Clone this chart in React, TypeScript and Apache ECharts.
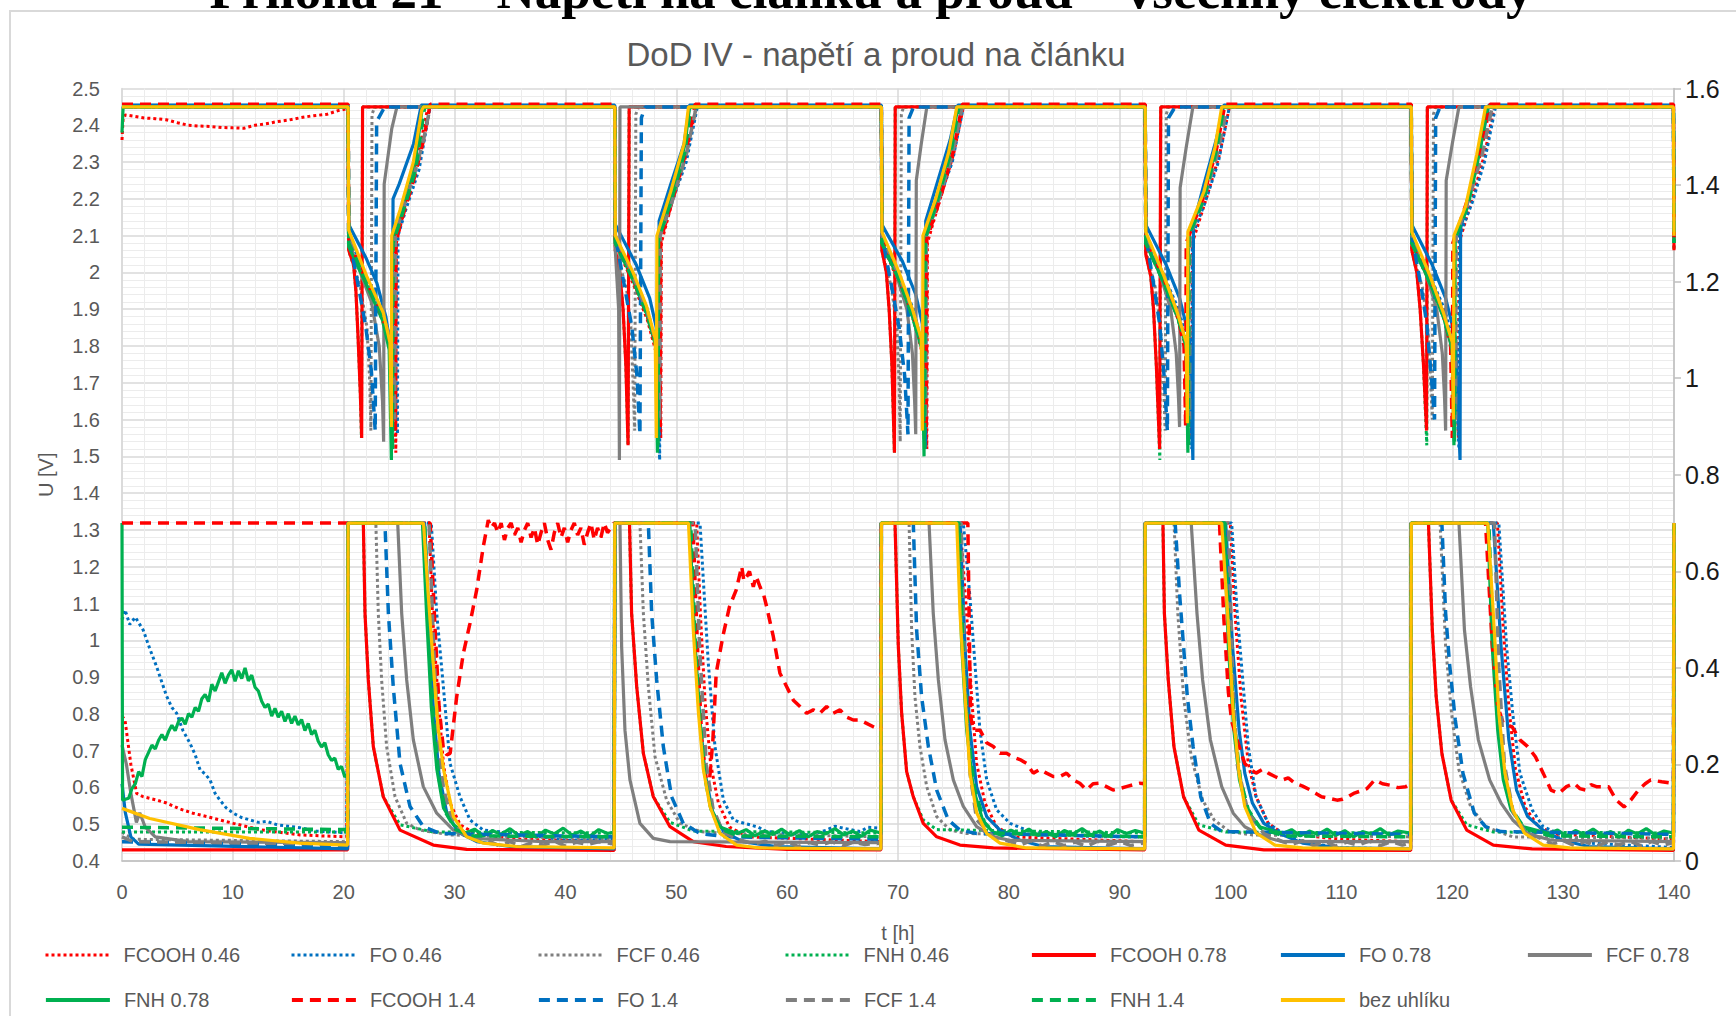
import React, { useEffect, useRef } from "react";
import * as echarts from "echarts";

// ---------- names / legend order ----------
const SERIES_NAMES = [
  "FCOOH 0.46", "FO 0.46", "FCF 0.46", "FNH 0.46",
  "FCOOH 0.78", "FO 0.78", "FCF 0.78", "FNH 0.78",
  "FCOOH 1.4", "FO 1.4", "FCF 1.4", "FNH 1.4", "bez uhlíku",
];
const X_TICKS = [0, 140, 10];
const U_TICKS = [0.4, 2.5, 0.1];
const I_TICKS = [0, 1.6, 0.2];

// ---------- data: flat [t, value, t, value, ...] ----------
// U = cell voltage [V] (left axis), I = current [A] (right axis)
const U_FCOOH_046 = [0,2.36, 0.1,2.42, 0.3,2.428, 1.2,2.424, 2,2.42, 3,2.418, 4,2.415, 5,2.407, 6,2.4, 7,2.398, 7.9,2.397, 9,2.394, 10,2.393, 11,2.392, 12,2.4, 13,2.404, 14,2.41, 15,2.414, 16,2.42, 17,2.425, 18.5,2.43, 19.5,2.44, 20.3,2.445,
  20.4,2.45, 20.45,2.08, 22.0,1.97, 23.5,1.87, 24.3,1.78, 24.6,1.65, 24.7,1.51, 24.75,2.08, 25.3,2.15, 26.0,2.25, 27.0,2.36, 27.6,2.45,
  44.45,2.45, 44.5,2.08, 46.1,1.97, 47.4,1.87, 48.2,1.78, 48.5,1.65, 48.6,1.55, 48.65,2.08, 49.7,2.2, 50.9,2.32, 51.8,2.45,
  68.5,2.45, 68.55,2.08, 70.1,1.97, 71.4,1.87, 72.2,1.78, 72.5,1.65, 72.6,1.52, 72.65,2.08, 73.8,2.2, 75.0,2.32, 75.9,2.45,
  92.3,2.45, 92.35,2.08, 94.0,1.97, 95.3,1.87, 96.1,1.78, 96.4,1.65, 96.5,1.55, 96.55,2.08, 97.8,2.2, 99.0,2.32, 99.9,2.45,
  116.3,2.45, 116.35,2.08, 118.0,1.97, 119.3,1.87, 120.1,1.78, 120.45,1.65, 120.55,1.55, 120.6,2.08, 121.8,2.2, 122.9,2.32, 123.8,2.45, 139.95,2.45, 140,2.08];
const I_FCOOH_046 = [0,0.3, 0.27,0.292, 0.8,0.2, 1.32,0.14, 1.92,0.133, 3,0.127, 4.03,0.12, 5.2,0.108, 6.4,0.099, 8,0.09, 10.04,0.078, 12.4,0.065, 14,0.06, 16.06,0.054, 18,0.052, 20.27,0.05, 20.4,0.7,
  27.7,0.7, 28.0,0.513, 28.5,0.34, 29.0,0.2, 29.6,0.12, 30.5,0.075, 32,0.055, 36,0.045, 44.4,0.04, 44.45,0.7,
  51.84,0.7, 52.2,0.5, 52.6,0.33, 53.1,0.2, 53.8,0.12, 54.8,0.07, 56.5,0.05, 68.45,0.04, 68.5,0.7,
  75.6,0.7, 76.19,0.513, 76.64,0.34, 77.09,0.202, 77.85,0.12, 78.9,0.071, 80.4,0.05, 92.25,0.04, 92.3,0.7,
  99.97,0.7, 100.4,0.513, 100.94,0.34, 101.6,0.202, 102.3,0.133, 103.4,0.078, 104.7,0.057, 110,0.045, 116.25,0.04, 116.3,0.7,
  124.07,0.7, 124.6,0.48, 125.1,0.32, 125.7,0.19, 126.6,0.11, 127.8,0.07, 129.5,0.055, 139.95,0.045, 140,0.7];

const U_FO_046 = [0,2.45, 20.4,2.45, 20.45,2.1, 22.0,1.99, 23.5,1.89, 24.3,1.81, 24.75,1.7, 24.85,1.56, 24.9,2.1, 25.6,2.17, 26.8,2.28, 27.8,2.45,
  44.45,2.45, 44.5,2.1, 46.1,1.99, 47.4,1.9, 48.2,1.8, 48.5,1.49, 48.55,2.1, 49.6,2.19, 50.9,2.3, 51.9,2.45,
  68.5,2.45, 68.55,2.1, 70.1,1.99, 71.4,1.9, 72.2,1.8, 72.5,1.53, 72.55,2.1, 73.6,2.19, 74.9,2.3, 75.9,2.45,
  92.3,2.45, 92.35,2.1, 94.0,1.99, 95.3,1.9, 96.2,1.8, 96.5,1.52, 96.55,2.1, 97.7,2.19, 98.9,2.3, 99.9,2.45,
  116.3,2.45, 116.35,2.1, 118.0,1.99, 119.3,1.9, 120.2,1.8, 120.6,1.52, 120.65,2.1, 121.8,2.19, 122.9,2.3, 123.9,2.45, 139.95,2.45, 140,2.1];
const I_FO_046 = [0,0.5, 0.27,0.52, 0.7,0.49, 1.2,0.505, 1.92,0.478, 2.5,0.44, 3.13,0.402, 3.6,0.37, 4.03,0.341, 4.5,0.318, 4.93,0.306, 5.5,0.27, 6.13,0.244, 6.6,0.22, 7.04,0.189, 7.5,0.18, 7.94,0.168, 8.4,0.14, 8.84,0.126, 9.4,0.11, 10.04,0.099, 10.8,0.09, 11.55,0.085, 12.3,0.08, 13.05,0.082, 14,0.075, 15,0.072, 16.06,0.069, 17.5,0.062, 19,0.06, 20.27,0.058, 20.4,0.7,
  27.9,0.7, 28.39,0.513, 28.99,0.361, 29.59,0.202, 30.49,0.133, 31.39,0.085, 32.59,0.064, 35.6,0.057, 40.1,0.043, 44.4,0.045, 44.45,0.7,
  52.14,0.7, 52.44,0.582, 52.89,0.409, 53.49,0.237, 54.25,0.126, 55.15,0.085, 55.8,0.08, 56.65,0.075, 57.4,0.07, 58.15,0.061, 59.96,0.057, 62.06,0.054, 63.56,0.064, 64.3,0.072, 65.07,0.068, 66.57,0.061, 67.3,0.07, 68.45,0.068, 68.5,0.7,
  75.89,0.7, 76.49,0.547, 76.94,0.409, 77.39,0.271, 78.0,0.168, 78.9,0.106, 80.1,0.078, 81.6,0.064, 83.1,0.057, 88,0.05, 92.25,0.05, 92.3,0.7,
  100.1,0.7, 100.6,0.513, 101.1,0.375, 101.6,0.237, 102.3,0.133, 103.4,0.078, 104.7,0.057, 106.5,0.04, 109.9,0.027, 116.25,0.025, 116.3,0.7,
  124.2,0.7, 124.9,0.444, 125.45,0.306, 126.1,0.182, 127.2,0.106, 128.2,0.071, 129.6,0.057, 132.3,0.037, 139.95,0.028, 140,0.7];

const U_FCF_046 = [0,2.45, 20.4,2.45, 20.45,2.06, 21.5,1.96, 22.1,1.85, 22.35,1.7, 22.45,1.57, 22.55,2.43, 22.8,2.45,
  44.45,2.45, 44.5,2.06, 45.5,1.96, 45.9,1.85, 46.1,1.7, 46.25,1.57, 46.35,2.43, 46.6,2.45,
  68.5,2.45, 68.55,2.06, 69.4,1.96, 69.9,1.85, 70.1,1.7, 70.2,1.54, 70.3,2.43, 70.5,2.45,
  92.3,2.45, 92.35,2.06, 93.2,1.96, 93.7,1.85, 93.95,1.7, 94.1,1.57, 94.2,2.43, 94.4,2.45,
  116.3,2.45, 116.35,2.06, 117.3,1.96, 117.8,1.85, 118.05,1.7, 118.2,1.6, 118.3,2.43, 118.5,2.45, 139.95,2.45, 140,2.06];
const I_FCF_046 = [0,0.06, 1,0.045, 20.35,0.04, 20.4,0.7,
  22.9,0.7, 23.12,0.513, 23.42,0.375, 23.87,0.237, 24.63,0.133, 25.68,0.078, 26.88,0.064, 29.6,0.054, 44.4,0.045, 44.45,0.7,
  46.72,0.7, 47.03,0.513, 47.48,0.361, 48.08,0.216, 49.13,0.126, 50.33,0.078, 52.14,0.061, 54.5,0.057, 68.45,0.05, 68.5,0.7,
  71.0,0.7, 71.23,0.478, 71.53,0.34, 71.98,0.237, 72.59,0.154, 73.49,0.092, 74.69,0.064, 76.19,0.057, 92.25,0.05, 92.3,0.7,
  94.9,0.7, 95.24,0.513, 95.76,0.34, 96.45,0.216, 97.48,0.126, 98.52,0.085, 99.9,0.061, 101.97,0.054, 116.25,0.05, 116.3,0.7,
  118.9,0.7, 119.4,0.444, 119.93,0.306, 120.6,0.189, 121.65,0.113, 123.0,0.071, 125.45,0.05, 139.95,0.047, 140,0.7];

const U_FNH_046 = [0,2.45, 20.4,2.45, 20.45,2.06, 20.9,2.02, 21.1,1.95, 21.3,1.82, 21.5,1.67, 21.6,1.55, 21.7,2.45,
  44.45,2.45, 44.5,2.06, 44.9,2.0, 45.2,1.9, 45.45,1.75, 45.65,1.53, 45.75,2.45,
  68.5,2.45, 68.55,2.06, 68.95,2.0, 69.2,1.9, 69.45,1.75, 69.68,1.51, 69.75,2.45,
  92.3,2.45, 92.35,2.05, 92.8,1.99, 93.05,1.9, 93.3,1.75, 93.62,1.49, 93.7,2.45,
  116.3,2.45, 116.35,2.06, 116.8,2.0, 117.1,1.9, 117.4,1.75, 117.7,1.53, 117.75,2.45, 139.95,2.45, 140,2.06];
const I_FNH_046 = [0,0.06, 20.35,0.06, 20.4,0.7,
  21.77,0.7, 21.92,0.513, 22.22,0.375, 22.67,0.237, 23.57,0.133, 25.08,0.075, 28.08,0.06, 44.4,0.058, 44.45,0.7,
  45.78,0.7, 45.97,0.513, 46.43,0.361, 47.03,0.223, 47.93,0.133, 49.43,0.08, 51.53,0.062, 68.45,0.058, 68.5,0.7,
  69.73,0.7, 70.03,0.444, 70.33,0.306, 70.78,0.185, 71.38,0.133, 72.28,0.085, 73.49,0.065, 92.25,0.058, 92.3,0.7,
  93.9,0.7, 94.03,0.513, 94.38,0.375, 94.89,0.237, 95.76,0.133, 97.14,0.075, 99.56,0.06, 116.25,0.058, 116.3,0.7,
  117.85,0.7, 118.2,0.478, 118.55,0.34, 119.06,0.223, 119.9,0.126, 121.3,0.075, 123.7,0.06, 139.95,0.058, 140,0.7];

const U_FCOOH_078 = [0,2.45, 20.4,2.45, 20.45,2.06, 20.9,2.02, 21.1,1.95, 21.3,1.82, 21.5,1.67, 21.62,1.55, 21.7,2.45,
  44.45,2.45, 44.5,2.06, 44.9,2.0, 45.2,1.9, 45.45,1.75, 45.65,1.53, 45.75,2.45,
  68.5,2.45, 68.55,2.06, 68.95,2.0, 69.2,1.9, 69.45,1.75, 69.68,1.51, 69.75,2.45,
  92.3,2.45, 92.35,2.05, 92.8,1.99, 93.05,1.9, 93.3,1.75, 93.6,1.52, 93.7,2.45,
  116.3,2.45, 116.35,2.06, 116.8,2.0, 117.1,1.9, 117.4,1.75, 117.68,1.57, 117.75,2.45, 139.95,2.45, 140,2.06];
const I_FCOOH_078 = [0,0.023, 20.35,0.023, 20.4,0.7,
  21.77,0.7, 21.92,0.513, 22.22,0.375, 22.67,0.237, 23.57,0.133, 25.08,0.064, 28.08,0.033, 31.09,0.024, 44.4,0.022, 44.45,0.7,
  45.78,0.7, 45.97,0.513, 46.43,0.361, 47.03,0.223, 47.93,0.133, 49.43,0.071, 51.53,0.04, 54.5,0.03, 60,0.024, 68.45,0.023, 68.5,0.7,
  69.73,0.7, 70.03,0.444, 70.33,0.306, 70.78,0.185, 71.38,0.133, 72.28,0.078, 73.49,0.05, 75.59,0.033, 78.6,0.027, 92.25,0.023, 92.3,0.7,
  93.9,0.7, 94.03,0.513, 94.38,0.375, 94.89,0.237, 95.76,0.133, 97.14,0.064, 99.56,0.033, 103.0,0.023, 116.25,0.022, 116.3,0.7,
  117.85,0.7, 118.2,0.478, 118.55,0.34, 119.06,0.223, 119.9,0.126, 121.3,0.064, 123.7,0.033, 127.2,0.025, 139.95,0.022, 140,0.7];

const U_FO_078 = [0,2.455, 20.4,2.455, 20.45,2.13, 22.0,2.04, 23.0,1.97, 23.8,1.88, 24.2,1.8, 24.35,1.6, 24.45,2.2, 25.0,2.24, 26.3,2.35, 27.0,2.455,
  44.45,2.455, 44.5,2.13, 46.4,2.02, 47.6,1.93, 48.2,1.85, 48.4,1.55, 48.45,2.14, 49.5,2.24, 50.7,2.35, 51.2,2.455,
  68.5,2.455, 68.55,2.13, 70.4,2.03, 71.6,1.94, 72.2,1.86, 72.45,1.52, 72.5,2.14, 73.5,2.24, 74.7,2.36, 75.4,2.455,
  92.3,2.455, 92.35,2.13, 94.2,2.02, 95.4,1.93, 96.3,1.82, 96.6,1.49, 96.65,2.13, 97.6,2.24, 98.7,2.36, 99.4,2.455,
  116.3,2.455, 116.35,2.13, 118.2,2.02, 119.4,1.93, 120.3,1.82, 120.7,1.49, 120.75,2.12, 121.6,2.22, 122.6,2.35, 123.3,2.455, 139.95,2.455, 140,2.12];
const I_FO_078 = [0,0.16, 0.3,0.1, 0.8,0.05, 1.5,0.035, 20.35,0.025, 20.4,0.7,
  27.3,0.7, 27.7,0.5, 28.1,0.31, 28.6,0.18, 29.3,0.1, 30.3,0.06, 32,0.04, 35,0.03, 44.4,0.025, 44.45,0.7,
  51.2,0.7, 51.6,0.48, 52.1,0.3, 52.6,0.18, 53.3,0.1, 54.3,0.06, 56,0.04, 59,0.03, 68.45,0.025, 68.5,0.7,
  75.6,0.7, 76.04,0.444, 76.49,0.271, 77.09,0.154, 78.0,0.092, 79.2,0.064, 81.0,0.043, 83.1,0.03, 92.25,0.025, 92.3,0.7,
  99.56,0.7, 100.18,0.444, 100.77,0.271, 101.28,0.182, 101.97,0.12, 103.0,0.078, 104.4,0.057, 106.5,0.037, 109.9,0.027, 116.25,0.025, 116.3,0.7,
  123.7,0.7, 124.4,0.444, 125.1,0.251, 125.8,0.147, 126.8,0.092, 128.2,0.064, 129.9,0.043, 132.3,0.03, 139.95,0.025, 140,0.7];

const U_FCF_078 = [0,2.45, 20.4,2.45, 20.45,2.08, 21.5,2.0, 22.5,1.92, 23.2,1.8, 23.5,1.65, 23.6,1.54, 23.65,2.24, 24.33,2.39, 24.8,2.45,
  44.45,2.45, 44.5,2.06, 44.8,1.9, 44.87,1.49, 44.92,2.45,
  68.5,2.45, 68.55,2.08, 69.8,2.0, 70.8,1.9, 71.3,1.78, 71.5,1.65, 71.6,1.56, 71.65,2.25, 72.1,2.35, 72.6,2.45,
  92.3,2.45, 92.35,2.08, 93.6,2.0, 94.6,1.9, 95.1,1.78, 95.3,1.66, 95.4,1.58, 95.45,2.23, 96.0,2.34, 96.6,2.45,
  116.3,2.45, 116.35,2.08, 117.6,2.0, 118.6,1.9, 119.1,1.78, 119.3,1.66, 119.4,1.57, 119.45,2.25, 120.0,2.35, 120.6,2.45, 139.95,2.45, 140,2.08];
const I_FCF_078 = [0,0.24, 0.4,0.2, 0.8,0.14, 1.3,0.08, 1.6,0.1, 2.1,0.07, 3,0.05, 6,0.04, 20.35,0.038, 20.4,0.7,
  24.87,0.7, 25.23,0.513, 25.68,0.375, 26.28,0.251, 27.18,0.154, 28.39,0.099, 29.89,0.064, 31.69,0.047, 38,0.04, 44.4,0.04, 44.45,0.7,
  44.92,0.7, 45.07,0.444, 45.37,0.271, 45.82,0.168, 46.72,0.078, 47.93,0.047, 49.43,0.04, 68.45,0.038, 68.5,0.7,
  72.8,0.7, 73.18,0.513, 73.64,0.375, 74.24,0.251, 74.99,0.168, 75.89,0.113, 77.09,0.071, 78.6,0.05, 80.1,0.043, 92.25,0.04, 92.3,0.7,
  96.45,0.7, 96.97,0.513, 97.48,0.375, 98.18,0.251, 99.2,0.154, 100.24,0.099, 101.28,0.071, 103.0,0.05, 104.7,0.04, 116.25,0.04, 116.3,0.7,
  120.6,0.7, 121.1,0.478, 121.65,0.361, 122.35,0.251, 123.37,0.168, 124.4,0.12, 125.45,0.085, 126.8,0.057, 128.9,0.043, 139.95,0.04, 140,0.7];

const U_FNH_078 = [0,2.38, 0.1,2.45, 20.4,2.45, 20.45,2.07, 22.0,1.97, 23.5,1.87, 24.1,1.79, 24.3,1.49, 24.35,2.08, 25.2,2.16, 26.4,2.29, 27.1,2.45,
  44.45,2.45, 44.5,2.08, 46.1,1.98, 47.3,1.89, 48.15,1.8, 48.3,1.51, 48.35,2.09, 49.6,2.21, 50.8,2.35, 51.2,2.45,
  68.5,2.45, 68.55,2.08, 70.1,1.98, 71.3,1.88, 72.2,1.79, 72.35,1.5, 72.4,2.09, 73.5,2.2, 74.7,2.33, 75.4,2.45,
  92.3,2.45, 92.35,2.08, 94.0,1.97, 95.2,1.88, 96.0,1.8, 96.15,1.51, 96.2,2.1, 97.6,2.21, 98.6,2.33, 99.3,2.45,
  116.3,2.45, 116.35,2.08, 118.0,1.97, 119.2,1.88, 120.0,1.79, 120.15,1.53, 120.2,2.09, 121.3,2.18, 122.3,2.32, 123.1,2.45, 139.95,2.45, 140,2.08];
const I_FNH_078 = [0,0.7, 0.05,0.126, 0.3,0.128, 0.6,0.13, 0.9,0.15, 1.2,0.16, 1.5,0.185, 1.8,0.175, 2.1,0.21, 2.4,0.225, 2.7,0.24, 3.0,0.232, 3.3,0.25, 3.6,0.262, 3.9,0.25, 4.2,0.268, 4.5,0.281, 4.8,0.27, 5.1,0.289, 5.4,0.296, 5.7,0.283, 6.0,0.305, 6.3,0.298, 6.6,0.318, 6.9,0.31, 7.2,0.336, 7.5,0.345, 7.8,0.33, 8.1,0.366, 8.4,0.352, 8.7,0.371, 9.0,0.39, 9.3,0.368, 9.6,0.385, 9.9,0.396, 10.2,0.372, 10.5,0.394, 10.8,0.378, 11.1,0.4, 11.4,0.373, 11.7,0.385, 12.0,0.36, 12.3,0.352, 12.6,0.331, 12.9,0.318, 13.2,0.325, 13.5,0.3, 13.8,0.316, 14.1,0.298, 14.4,0.31, 14.7,0.289, 15.0,0.305, 15.3,0.285, 15.6,0.3, 15.9,0.282, 16.2,0.293, 16.5,0.27, 16.8,0.285, 17.1,0.262, 17.4,0.271, 17.7,0.248, 18.0,0.236, 18.3,0.245, 18.6,0.22, 18.9,0.208, 19.2,0.213, 19.5,0.19, 19.8,0.196, 20.1,0.174, 20.35,0.18, 20.4,0.7,
  27.1,0.7, 27.5,0.5, 27.9,0.32, 28.4,0.19, 29.0,0.11, 29.9,0.075, 31,0.058, 31.8,0.066, 32.6,0.052, 33.4,0.063, 34.2,0.055, 35,0.067, 35.8,0.053, 36.6,0.061, 37.4,0.05, 38.2,0.064, 39,0.056, 39.8,0.068, 40.6,0.054, 41.4,0.062, 42.2,0.051, 43,0.065, 43.8,0.057, 44.4,0.06, 44.45,0.7,
  51.2,0.7, 51.6,0.48, 52.05,0.31, 52.5,0.19, 53.1,0.11, 54.0,0.07, 55.5,0.057, 56.3,0.065, 57.1,0.052, 57.9,0.062, 58.7,0.055, 59.5,0.066, 60.3,0.053, 61.1,0.063, 61.9,0.05, 62.7,0.061, 63.5,0.056, 64.3,0.067, 65.1,0.054, 65.9,0.062, 66.7,0.051, 67.5,0.064, 68.45,0.058, 68.5,0.7,
  75.4,0.7, 75.75,0.444, 76.2,0.27, 76.8,0.15, 77.7,0.08, 78.6,0.06, 79.4,0.052, 80.2,0.064, 81,0.055, 81.8,0.066, 82.6,0.053, 83.4,0.061, 84.2,0.05, 85,0.063, 85.8,0.056, 86.6,0.067, 87.4,0.054, 88.2,0.062, 89,0.051, 89.8,0.065, 90.6,0.057, 91.4,0.063, 92.25,0.058, 92.3,0.7,
  99.4,0.7, 99.8,0.444, 100.3,0.27, 100.8,0.168, 101.5,0.106, 102.6,0.071, 104.7,0.057, 105.5,0.065, 106.3,0.052, 107.1,0.062, 107.9,0.055, 108.7,0.066, 109.5,0.053, 110.3,0.063, 111.1,0.05, 111.9,0.061, 112.7,0.056, 113.5,0.067, 114.3,0.054, 115.1,0.062, 116.25,0.058, 116.3,0.7,
  123.2,0.7, 123.6,0.444, 124.1,0.27, 124.6,0.168, 125.3,0.106, 126.4,0.071, 128.7,0.057, 129.5,0.064, 130.3,0.052, 131.1,0.063, 131.9,0.055, 132.7,0.066, 133.5,0.053, 134.3,0.061, 135.1,0.05, 135.9,0.064, 136.7,0.056, 137.5,0.067, 138.3,0.054, 139.1,0.062, 139.95,0.058, 140,0.7];

const U_FCOOH_14 = [0,2.457, 20.4,2.457, 20.45,2.09, 22.0,1.98, 23.5,1.88, 24.3,1.8, 24.55,1.68, 24.65,1.57, 24.7,2.09, 25.4,2.16, 26.4,2.26, 27.2,2.36, 27.8,2.457,
  44.45,2.457, 44.5,2.09, 46.1,1.98, 47.4,1.88, 48.2,1.8, 48.45,1.68, 48.55,1.58, 48.6,2.09, 49.7,2.2, 50.9,2.33, 51.7,2.457,
  68.5,2.457, 68.55,2.09, 70.1,1.98, 71.4,1.88, 72.2,1.8, 72.45,1.68, 72.55,1.58, 72.6,2.09, 73.8,2.2, 75.0,2.33, 75.8,2.457,
  92.3,2.457, 92.35,2.09, 93.9,1.99, 95.1,1.9, 95.8,1.8, 95.95,1.58, 96.0,2.08, 97.5,2.2, 98.7,2.33, 99.5,2.457,
  116.3,2.457, 116.35,2.09, 117.9,1.99, 119.1,1.9, 119.85,1.8, 120.0,1.55, 120.05,2.08, 121.4,2.2, 122.6,2.33, 123.4,2.457, 139.95,2.457, 140,2.09];
const I_FCOOH_14 = [0,0.7, 20.4,0.7,
  27.8,0.7, 28.2,0.5, 28.6,0.32, 29.0,0.23, 29.3,0.22, 29.6,0.223, 30.19,0.34, 30.79,0.43, 31.39,0.492, 31.99,0.561, 32.59,0.651, 33.04,0.706,
  33.3,0.69, 33.6,0.7, 33.9,0.68, 34.2,0.7, 34.5,0.665, 34.8,0.69, 35.1,0.7, 35.4,0.675, 35.7,0.69, 36.0,0.66, 36.3,0.685, 36.6,0.7, 36.9,0.67, 37.2,0.69, 37.5,0.655, 37.8,0.68, 38.1,0.7, 38.4,0.665, 38.7,0.645, 39.0,0.68, 39.3,0.7, 39.6,0.67, 39.9,0.69, 40.2,0.66, 40.5,0.685, 40.8,0.7, 41.1,0.675, 41.4,0.69, 41.7,0.655, 42.0,0.68, 42.3,0.7, 42.6,0.665, 42.9,0.69, 43.2,0.67, 43.5,0.7, 43.8,0.68, 44.1,0.69, 44.4,0.7,
  51.5,0.7, 51.9,0.45, 52.3,0.25, 52.7,0.17, 53.0,0.168, 53.3,0.25, 53.6,0.389, 54.2,0.465, 54.8,0.527, 55.4,0.561, 55.9,0.61, 56.1,0.58, 56.35,0.589, 56.6,0.6, 56.95,0.568, 57.2,0.59, 57.55,0.568, 57.9,0.55, 58.15,0.527, 58.75,0.465, 59.35,0.389, 59.96,0.361, 60.56,0.333, 61.16,0.32, 61.76,0.306, 62.36,0.313, 62.96,0.306, 63.56,0.32, 64.16,0.306, 64.77,0.313, 65.37,0.298, 65.97,0.292, 66.57,0.292, 67.17,0.285, 67.77,0.278, 68.45,0.27, 68.5,0.7,
  76.3,0.7, 76.45,0.45, 76.55,0.3, 76.8,0.271, 77.4,0.271, 78.0,0.245, 78.6,0.237, 79.2,0.223, 79.8,0.223, 80.4,0.215, 81.0,0.21, 81.6,0.202, 82.2,0.182, 82.8,0.19, 83.4,0.182, 84.0,0.175, 84.6,0.175, 85.2,0.182, 85.8,0.168, 86.4,0.161, 87.0,0.147, 87.6,0.16, 88.2,0.161, 88.8,0.154, 89.4,0.147, 90.0,0.15, 90.6,0.154, 91.2,0.158, 91.8,0.161, 92.25,0.16, 92.3,0.7,
  99.0,0.7, 99.4,0.5, 99.8,0.35, 100.1,0.29, 100.6,0.25, 101.28,0.202, 101.8,0.19, 102.3,0.182, 102.9,0.19, 103.4,0.182, 104.0,0.175, 104.7,0.168, 105.2,0.172, 105.8,0.161, 106.5,0.155, 107.2,0.147, 107.7,0.14, 108.2,0.133, 108.9,0.13, 109.6,0.126, 110.1,0.128, 110.6,0.133, 111.1,0.14, 111.6,0.144, 112.3,0.15, 113.0,0.168, 113.7,0.16, 114.4,0.157, 115.1,0.152, 115.8,0.154, 116.25,0.16, 116.3,0.7,
  123.0,0.7, 123.6,0.45, 124.1,0.32, 124.6,0.285, 125.4,0.278, 126.1,0.251, 126.8,0.237, 127.5,0.216, 128.2,0.182, 128.9,0.147, 129.6,0.14, 130.3,0.154, 131.0,0.161, 131.5,0.15, 132.0,0.147, 132.5,0.158, 133.0,0.154, 134.1,0.154, 134.8,0.126, 135.5,0.112, 136.1,0.126, 136.8,0.147, 137.4,0.16, 137.9,0.168, 138.9,0.164, 139.8,0.161, 139.95,0.16, 140,0.7];

const U_FO_14 = [0,2.45, 20.4,2.45, 20.45,2.1, 21.4,1.95, 22.0,1.85, 22.5,1.73, 22.84,1.57, 22.97,2.41, 23.7,2.45,
  44.45,2.45, 44.5,2.1, 45.4,1.95, 46.0,1.85, 46.45,1.72, 46.72,1.56, 46.85,2.42, 47.2,2.45,
  68.5,2.45, 68.55,2.1, 69.5,1.95, 70.1,1.85, 70.6,1.72, 70.9,1.56, 71.0,2.42, 71.4,2.45,
  92.3,2.45, 92.35,2.1, 93.1,1.96, 93.6,1.86, 94.0,1.72, 94.3,1.57, 94.4,2.42, 95.0,2.45,
  116.3,2.45, 116.35,2.1, 117.2,1.96, 117.7,1.86, 118.1,1.72, 118.4,1.6, 118.5,2.42, 118.9,2.45, 139.95,2.45, 140,2.1];
const I_FO_14 = [0,0.04, 20.35,0.03, 20.4,0.7,
  23.72,0.7, 24.03,0.513, 24.47,0.361, 25.08,0.202, 25.98,0.113, 27.18,0.071, 28.69,0.057, 44.4,0.05, 44.45,0.7,
  47.48,0.7, 47.78,0.513, 48.23,0.375, 48.83,0.237, 49.58,0.133, 50.63,0.078, 52.14,0.057, 54.5,0.05, 68.45,0.045, 68.5,0.7,
  71.38,0.7, 71.68,0.478, 72.13,0.34, 72.74,0.237, 73.49,0.147, 74.54,0.085, 75.59,0.064, 77.09,0.057, 92.25,0.05, 92.3,0.7,
  95.0,0.7, 95.42,0.547, 95.76,0.444, 96.1,0.34, 96.62,0.237, 97.31,0.133, 98.18,0.078, 99.2,0.061, 116.25,0.055, 116.3,0.7,
  119.06,0.7, 119.4,0.513, 119.75,0.409, 120.27,0.292, 120.96,0.182, 121.99,0.099, 123.0,0.071, 124.4,0.061, 139.95,0.055, 140,0.7];

const U_FCF_14 = [0,2.45, 20.4,2.45, 20.45,2.1, 22.0,1.99, 23.5,1.89, 24.3,1.81, 24.55,1.7, 24.6,1.6, 24.65,2.1, 25.3,2.17, 26.4,2.27, 27.2,2.36, 27.8,2.45,
  44.45,2.45, 44.5,2.1, 46.1,1.99, 47.4,1.89, 48.2,1.81, 48.45,1.7, 48.5,1.6, 48.55,2.1, 49.7,2.2, 50.9,2.32, 51.8,2.45,
  68.5,2.45, 68.55,2.1, 70.1,1.99, 71.4,1.89, 72.2,1.81, 72.45,1.7, 72.5,1.6, 72.55,2.1, 73.7,2.2, 74.9,2.32, 75.8,2.45,
  92.3,2.45, 92.35,2.1, 94.0,1.99, 95.2,1.89, 96.0,1.81, 96.25,1.7, 96.3,1.6, 96.35,2.1, 97.6,2.2, 98.8,2.32, 99.7,2.45,
  116.3,2.45, 116.35,2.1, 118.0,1.99, 119.2,1.89, 120.0,1.81, 120.25,1.7, 120.3,1.6, 120.35,2.1, 121.5,2.2, 122.7,2.32, 123.6,2.45, 139.95,2.45, 140,2.1];
const I_FCF_14 = [0,0.05, 1,0.04, 20.35,0.035, 20.4,0.7,
  27.7,0.7, 28.1,0.45, 28.5,0.26, 29.0,0.15, 29.7,0.09, 30.8,0.055, 32.3,0.04, 33,0.042, 34,0.032, 35,0.04, 36,0.03, 37,0.038, 38,0.033, 39,0.041, 40,0.031, 41,0.039, 42,0.034, 43,0.04, 44.4,0.035, 44.45,0.7,
  51.7,0.7, 52.1,0.444, 52.7,0.2, 53.3,0.11, 54.2,0.06, 55.6,0.045, 57,0.035, 58,0.041, 59,0.032, 60,0.04, 61,0.03, 62,0.038, 63,0.033, 64,0.04, 65,0.031, 66,0.039, 67,0.034, 68.45,0.037, 68.5,0.7,
  75.7,0.7, 76.0,0.4, 76.5,0.18, 77.1,0.085, 78.6,0.05, 80.1,0.04, 81,0.033, 82,0.042, 83,0.031, 84,0.04, 85,0.032, 86,0.039, 87,0.03, 88,0.041, 89,0.033, 90,0.04, 91,0.032, 92.25,0.038, 92.3,0.7,
  99.8,0.7, 100.2,0.375, 100.6,0.2, 101.6,0.099, 103.0,0.057, 104.7,0.04, 105.5,0.034, 106.5,0.042, 107.5,0.032, 108.5,0.04, 109.5,0.031, 110.5,0.039, 111.5,0.033, 112.5,0.041, 113.5,0.032, 114.5,0.04, 115.5,0.033, 116.25,0.038, 116.3,0.7,
  123.8,0.7, 124.2,0.4, 124.7,0.2, 125.5,0.1, 126.6,0.06, 128.2,0.045, 129,0.035, 130,0.042, 131,0.032, 132,0.04, 133,0.031, 134,0.039, 135,0.033, 136,0.041, 137,0.032, 138,0.04, 139,0.033, 139.95,0.038, 140,0.7];

const U_FNH_14 = [0,2.45, 20.4,2.45, 20.45,2.08, 22.0,1.98, 23.5,1.88, 24.2,1.8, 24.4,1.52, 24.45,2.08, 25.3,2.16, 26.5,2.28, 27.3,2.45,
  44.45,2.45, 44.5,2.08, 46.1,1.98, 47.3,1.89, 48.2,1.8, 48.35,1.53, 48.4,2.09, 49.6,2.2, 50.8,2.33, 51.3,2.45,
  68.5,2.45, 68.55,2.08, 70.1,1.98, 71.3,1.88, 72.2,1.79, 72.4,1.52, 72.45,2.09, 73.6,2.2, 74.8,2.33, 75.5,2.45,
  92.3,2.45, 92.35,2.08, 94.0,1.97, 95.2,1.88, 96.0,1.8, 96.2,1.53, 96.25,2.1, 97.6,2.2, 98.7,2.33, 99.4,2.45,
  116.3,2.45, 116.35,2.08, 118.0,1.97, 119.2,1.88, 120.0,1.79, 120.2,1.54, 120.25,2.09, 121.4,2.18, 122.4,2.32, 123.2,2.45, 139.95,2.45, 140,2.08];
const I_FNH_14 = [0,0.07, 20.35,0.065, 20.4,0.7,
  27.3,0.7, 27.7,0.46, 28.1,0.29, 28.6,0.17, 29.2,0.1, 30.1,0.065, 31.5,0.052, 44.4,0.05, 44.45,0.7,
  51.3,0.7, 51.7,0.46, 52.15,0.29, 52.6,0.17, 53.2,0.1, 54.1,0.065, 55.6,0.052, 68.45,0.05, 68.5,0.7,
  75.5,0.7, 75.85,0.444, 76.3,0.27, 76.9,0.15, 77.8,0.08, 78.7,0.058, 92.25,0.05, 92.3,0.7,
  99.5,0.7, 99.9,0.444, 100.4,0.27, 100.9,0.168, 101.6,0.106, 102.7,0.068, 104.8,0.052, 116.25,0.05, 116.3,0.7,
  123.3,0.7, 123.7,0.444, 124.2,0.27, 124.7,0.168, 125.4,0.106, 126.5,0.068, 128.8,0.052, 139.95,0.05, 140,0.7];

const U_BEZ = [0,2.45, 20.4,2.45, 20.45,2.115, 22.07,1.99, 23.57,1.89, 24.17,1.81, 24.3,1.58, 24.33,2.1, 25.08,2.17, 26.28,2.3, 27.03,2.44, 27.2,2.45,
  44.45,2.45, 44.5,2.1, 46.1,2.0, 47.3,1.91, 48.1,1.82, 48.2,1.55, 48.25,2.1, 49.5,2.22, 50.7,2.35, 51.1,2.45,
  68.5,2.45, 68.55,2.11, 70.1,2.0, 71.3,1.9, 72.1,1.82, 72.2,1.57, 72.25,2.1, 73.4,2.2, 74.6,2.33, 75.3,2.45,
  92.3,2.45, 92.35,2.11, 94.0,1.99, 95.2,1.89, 96.0,1.81, 96.1,1.59, 96.15,2.11, 97.6,2.22, 98.6,2.34, 99.2,2.45,
  116.3,2.45, 116.35,2.11, 118.0,1.99, 119.2,1.89, 120.0,1.81, 120.1,1.6, 120.15,2.1, 121.2,2.18, 122.2,2.32, 123.0,2.45, 139.95,2.45, 140,2.1];
const I_BEZ = [0,0.109, 2.5,0.088, 7,0.065, 11.5,0.047, 16,0.037, 20.35,0.033, 20.4,0.7,
  27.2,0.7, 27.6,0.56, 28.1,0.4, 28.5,0.28, 29.0,0.19, 29.9,0.092, 31.1,0.05, 32.6,0.037, 35.6,0.03, 44.4,0.027, 44.45,0.7,
  51.1,0.7, 51.53,0.48, 51.99,0.31, 52.44,0.19, 53.04,0.113, 53.94,0.057, 55.45,0.033, 57.55,0.027, 68.45,0.025, 68.5,0.7,
  75.3,0.7, 75.6,0.51, 76.05,0.34, 76.5,0.18, 77.1,0.1, 78.0,0.057, 79.2,0.037, 81.6,0.027, 92.25,0.025, 92.3,0.7,
  99.2,0.7, 99.73,0.513, 100.24,0.306, 100.77,0.182, 101.28,0.113, 102.3,0.058, 104.0,0.033, 106.5,0.027, 116.25,0.025, 116.3,0.7,
  123.2,0.7, 123.7,0.513, 124.2,0.306, 124.75,0.182, 125.45,0.106, 126.5,0.058, 128.2,0.033, 130.6,0.027, 139.95,0.025, 140,0.7];

// ---------- styles ----------
const RED = "#FF0000";
const BLUE = "#0070C0";
const GRAY = "#7F7F7F";
const GREEN = "#00B050";
const YELLOW = "#FFC000";
const FONT = "'Liberation Sans', Arial, sans-serif";

const SPECS = [
  { color: RED, kind: "dot", u: U_FCOOH_046, i: I_FCOOH_046 },
  { color: BLUE, kind: "dot", u: U_FO_046, i: I_FO_046 },
  { color: GRAY, kind: "dot", u: U_FCF_046, i: I_FCF_046 },
  { color: GREEN, kind: "dot", u: U_FNH_046, i: I_FNH_046 },
  { color: RED, kind: "solid", u: U_FCOOH_078, i: I_FCOOH_078 },
  { color: BLUE, kind: "solid", u: U_FO_078, i: I_FO_078 },
  { color: GRAY, kind: "solid", u: U_FCF_078, i: I_FCF_078 },
  { color: GREEN, kind: "solid", u: U_FNH_078, i: I_FNH_078 },
  { color: RED, kind: "dash", u: U_FCOOH_14, i: I_FCOOH_14 },
  { color: BLUE, kind: "dash", u: U_FO_14, i: I_FO_14 },
  { color: GRAY, kind: "dash", u: U_FCF_14, i: I_FCF_14 },
  { color: GREEN, kind: "dash", u: U_FNH_14, i: I_FNH_14 },
  { color: YELLOW, kind: "solid", u: U_BEZ, i: I_BEZ },
];

const LEGEND_COLS = [44, 290, 537, 784, 1030, 1279, 1526];
const LEGEND_ROWS = [945, 990];

function pairs(a: number[]): number[][] {
  const out: number[][] = [];
  for (let k = 0; k + 1 < a.length; k += 2) out.push([a[k], a[k + 1]]);
  return out;
}

function lineStyleOf(color: string, kind: string) {
  if (kind === "dot") return { color, width: 3, type: [3, 3] as any, cap: "butt" as const };
  if (kind === "dash") return { color, width: 3.5, type: [11, 7] as any, cap: "butt" as const };
  return { color, width: 3.2, type: "solid" as const };
}

const fmt = (v: number) => String(Math.round(v * 10) / 10);

export default function App() {
  const ref = useRef<HTMLDivElement>(null);

  useEffect(() => {
    if (!ref.current) return;
    const chart = echarts.init(ref.current, undefined, { renderer: "svg" });

    const series: any[] = [];
    SPECS.forEach((s, k) => {
      series.push({
        type: "line", name: SERIES_NAMES[k], yAxisIndex: 0, data: pairs(s.u),
        symbol: "none", showSymbol: false, lineStyle: lineStyleOf(s.color, s.kind),
        itemStyle: { color: s.color }, emphasis: { disabled: true }, silent: true,
      });
    });
    SPECS.forEach((s, k) => {
      series.push({
        type: "line", name: SERIES_NAMES[k], yAxisIndex: 1, data: pairs(s.i),
        symbol: "none", showSymbol: false, lineStyle: lineStyleOf(s.color, s.kind),
        itemStyle: { color: s.color }, emphasis: { disabled: true }, silent: true,
      });
    });

    const legends = SERIES_NAMES.map((name, k) => {
      const row = k < 7 ? 0 : 1;
      const col = k < 7 ? k : k - 7;
      const s = SPECS[k];
      return {
        show: true, data: [name], left: LEGEND_COLS[col], top: LEGEND_ROWS[row],
        padding: 0, itemWidth: 64, itemHeight: 14, itemGap: 0, selectedMode: false,
        itemStyle: { opacity: 0 },
        lineStyle: { width: s.kind === "dot" ? 3 : 3.8 },
        textStyle: { fontSize: 20, color: "#595959", fontFamily: FONT, padding: [0, 0, 0, 9] },
      };
    });

    chart.setOption({
      animation: false,
      backgroundColor: "#ffffff",
      grid: { left: 122, right: 62, top: 88.5, bottom: 155, containLabel: false },
      legend: legends,
      graphic: [
        {
          type: "rect", silent: true, z: -10,
          shape: { x: 10, y: 11, width: 1800, height: 1100 },
          style: { fill: "none", stroke: "#d9d9d9", lineWidth: 2 },
        },
        {
          type: "text", silent: true, x: 871, y: -10,
          style: {
            text: "Příloha 21 – Napětí na článku a proud – všechny elektrody",
            fontSize: 53, fontWeight: "bold", fontFamily: "'Liberation Serif', 'Times New Roman', serif",
            fill: "#000000", align: "center", verticalAlign: "middle",
          },
        },
        {
          type: "text", silent: true, x: 876, y: 54,
          style: {
            text: "DoD IV - napětí a proud na článku",
            fontSize: 33, fontFamily: FONT, fill: "#595959", align: "center", verticalAlign: "middle",
          },
        },
      ],
      xAxis: {
        type: "value", min: X_TICKS[0], max: X_TICKS[1], interval: X_TICKS[2],
        axisLine: { show: true, lineStyle: { color: "#bfbfbf", width: 1.5 } },
        axisTick: { show: false },
        axisLabel: { fontSize: 20, color: "#595959", margin: 21, fontFamily: FONT },
        splitLine: { show: true, lineStyle: { color: "#d9d9d9", width: 1.5 } },
        minorTick: { show: false, splitNumber: 5 },
        minorSplitLine: { show: true, lineStyle: { color: "#ececec", width: 1 } },
        name: "t [h]", nameLocation: "middle", nameGap: 62,
        nameTextStyle: { fontSize: 20, color: "#595959", fontFamily: FONT },
      },
      yAxis: [
        {
          type: "value", position: "left", min: U_TICKS[0], max: U_TICKS[1], interval: U_TICKS[2],
          axisLine: { show: true, lineStyle: { color: "#d9d9d9", width: 1.5 } },
          axisTick: { show: false },
          axisLabel: { fontSize: 20, color: "#595959", margin: 22, fontFamily: FONT, formatter: fmt },
          splitLine: { show: true, lineStyle: { color: "#d9d9d9", width: 1.5 } },
          minorTick: { show: false, splitNumber: 5 },
          minorSplitLine: { show: true, lineStyle: { color: "#ececec", width: 1 } },
          name: "U [V]", nameLocation: "middle", nameGap: 66,
          nameTextStyle: { fontSize: 20, color: "#595959", fontFamily: FONT },
        },
        {
          type: "value", position: "right", min: I_TICKS[0], max: I_TICKS[1], interval: I_TICKS[2],
          axisLine: { show: true, lineStyle: { color: "#bfbfbf", width: 1.5 } },
          axisTick: { show: true, inside: false, length: 7, lineStyle: { color: "#bfbfbf", width: 1.5 } },
          axisLabel: { fontSize: 25, color: "#1a1a1a", margin: 11, fontFamily: FONT, formatter: fmt },
          splitLine: { show: false },
        },
      ],
      series,
    });

    return () => chart.dispose();
  }, []);

  return (
    <div
      ref={ref}
      style={{ position: "fixed", left: 0, top: 0, width: 1736, height: 1016, background: "#fff" }}
    />
  );
}
